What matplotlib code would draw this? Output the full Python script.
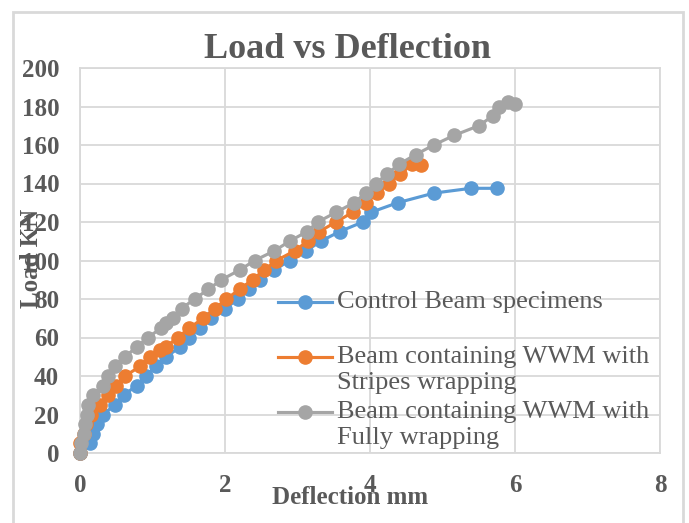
import matplotlib
matplotlib.use("Agg")
import matplotlib.pyplot as plt
from matplotlib.patches import Rectangle
from matplotlib.lines import Line2D

# --- data ---
control_x = [0, 0.14, 0.18, 0.23, 0.32, 0.48, 0.60, 0.78, 0.91, 1.05, 1.19, 1.38, 1.51, 1.65,
             1.81, 2.00, 2.18, 2.33, 2.48, 2.68, 2.89, 3.12, 3.32, 3.58, 3.90, 4.01, 4.38,
             4.88, 5.39, 5.75]
control_y = [0, 5, 10, 15, 20, 25, 30, 35, 40, 45, 50, 55, 60, 65, 70, 75, 80, 85, 90, 95,
             100, 105, 110, 115, 120, 125, 130, 135, 137.5, 137.5]

stripes_x = [0, 0.0, 0.05, 0.08, 0.15, 0.28, 0.39, 0.50, 0.62, 0.83, 0.96, 1.10, 1.18, 1.35,
             1.51, 1.70, 1.86, 2.02, 2.20, 2.38, 2.54, 2.71, 2.96, 3.14, 3.30, 3.53, 3.76,
             3.94, 4.10, 4.26, 4.42, 4.58, 4.71]
stripes_y = [0, 5, 10, 15, 20, 25, 30, 35, 40, 45, 50, 53.5, 55, 60, 65, 70, 75, 80, 85, 90,
             95, 100, 105, 110, 115, 120, 125, 130, 135, 140, 145, 150, 149.5]

fully_x = [0, 0.02, 0.05, 0.07, 0.09, 0.11, 0.18, 0.32, 0.39, 0.48, 0.62, 0.78, 0.94, 1.12,
           1.19, 1.28, 1.40, 1.58, 1.77, 1.95, 2.20, 2.41, 2.68, 2.89, 3.13, 3.28, 3.53,
           3.78, 3.94, 4.08, 4.24, 4.40, 4.63, 4.88, 5.16, 5.50, 5.69, 5.78, 5.91, 6.00]
fully_y = [0, 5, 10, 15, 20, 25, 30, 35, 40, 45, 50, 55, 60, 65, 67.5, 70, 75, 80, 85, 90,
           95, 100, 105, 110, 115, 120, 125, 130, 135, 140, 145, 150, 155, 160, 165, 170,
           175, 180, 182.5, 181.5]

labels = ["Control Beam specimens",
          "Beam containing WWM with\nStripes wrapping",
          "Beam containing WWM with\nFully wrapping"]
colors = ["#5B9BD5", "#ED7D31", "#A5A5A5"]

text_color = "#595959"
grid_color = "#D9D9D9"
serif = "Liberation Serif"
W, H = 689, 523


def fx(px):
    return px / W


def fy(py):
    return 1 - py / H


fig = plt.figure(figsize=(6.89, 5.23), dpi=100)
ax = fig.add_axes([fx(80), fy(453), 580 / W, 385 / H])

series = [(control_x, control_y), (stripes_x, stripes_y), (fully_x, fully_y)]
for (xs, ys), c in zip(series, colors):
    ax.plot(xs, ys, color=c, lw=2.25, marker="o", markersize=9.5,
            clip_on=False, zorder=3)

ax.set_xlim(0, 8)
ax.set_ylim(0, 200)
ax.set_xticks(range(0, 9, 2))
ax.set_yticks(range(0, 201, 20))
ax.grid(True, color=grid_color, lw=1.3)
ax.set_axisbelow(True)
for s in ax.spines.values():
    s.set_color(grid_color)
    s.set_linewidth(1.3)
ax.tick_params(length=0, labelsize=18, labelcolor=text_color, pad=15)
for t in ax.get_xticklabels() + ax.get_yticklabels():
    t.set_fontfamily(serif)
    t.set_fontweight("bold")

fig.text(fx(348), fy(50), "Load vs Deflection", ha="center", va="center",
         fontsize=26, fontweight="bold", family=serif, color=text_color)
fig.text(fx(350), fy(497), "Deflection mm", ha="center", va="center",
         fontsize=18, fontweight="bold", family=serif, color=text_color)
fig.text(fx(31), fy(258), "Load KN", ha="center", va="center", rotation=90,
         fontsize=18, fontweight="bold", family=serif, color=text_color)

# legend drawn by hand: Excel keeps the marker on the first line of a wrapped label
entry_y = [302, 357, 412]
for lab, c, y0 in zip(labels, colors, entry_y):
    fig.add_artist(Line2D([fx(278), fx(332)], [fy(y0), fy(y0)], color=c, lw=2.25,
                          marker="o", markevery=[], transform=fig.transFigure))
    fig.add_artist(Line2D([fx(305)], [fy(y0)], color=c, marker="o", markersize=9.5,
                          transform=fig.transFigure))
    for k, line in enumerate(lab.split("\n")):
        fig.text(fx(337), fy(y0 + 26 * k), line, ha="left", va="center",
                 fontsize=19, family=serif, color=text_color)

fig.patches.append(Rectangle((fx(13), -0.05), 670 / W, 1.05 - 12 / H,
                             transform=fig.transFigure, fill=False,
                             edgecolor=grid_color, lw=2))

fig.savefig("out.png", dpi=100)
